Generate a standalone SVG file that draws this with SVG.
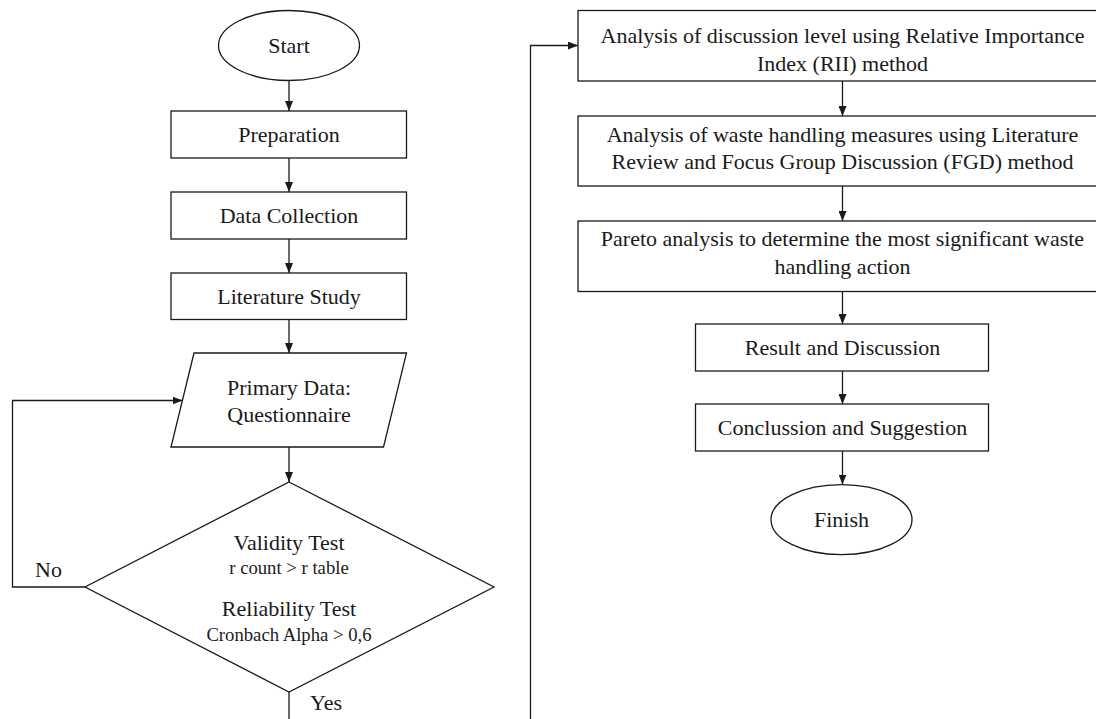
<svg xmlns="http://www.w3.org/2000/svg" width="1096" height="719" viewBox="0 0 1096 719">
<defs>
<marker id="arr" markerUnits="userSpaceOnUse" markerWidth="10" markerHeight="8" refX="10" refY="4" orient="auto">
<path d="M0,0 L10,4 L0,8 z" fill="#1a1a1a"/>
</marker>
<style>
.s{fill:#fff;stroke:#1a1a1a;stroke-width:1.3}
.c{fill:none;stroke:#1a1a1a;stroke-width:1.3}
.a{marker-end:url(#arr)}
text{font-family:"Liberation Serif","Times New Roman",serif;font-size:22px;fill:#1a1a1a;text-anchor:middle}
.sm{font-size:18.7px}
</style>
</defs>
<rect width="1096" height="719" fill="#fff"/>
<g id="connectors">
<line class="c a" x1="289" y1="81" x2="289" y2="111"/>
<line class="c a" x1="289" y1="158" x2="289" y2="192"/>
<line class="c a" x1="289" y1="239" x2="289" y2="273"/>
<line class="c a" x1="289" y1="319" x2="289" y2="353"/>
<line class="c a" x1="289" y1="447" x2="289" y2="482"/>
<polyline class="c a" points="85,587 12.5,587 12.5,400.5 182.5,400.5"/>
<polyline class="c" points="289,692 289,720"/>
<polyline class="c a" points="530.5,720 530.5,45.5 578,45.5"/>
<line class="c a" x1="842.5" y1="81" x2="842.5" y2="116"/>
<line class="c a" x1="842.5" y1="186" x2="842.5" y2="221"/>
<line class="c a" x1="842.5" y1="291.5" x2="842.5" y2="324"/>
<line class="c a" x1="842.5" y1="371" x2="842.5" y2="404"/>
<line class="c a" x1="842.5" y1="451" x2="842.5" y2="484.5"/>
<text x="48.5" y="577">No</text>
<text x="326" y="710">Yes</text>
</g>
<g id="start">
<ellipse class="s" cx="289" cy="45.5" rx="70.5" ry="35"/>
<text x="289" y="53">Start</text>
</g>
<g id="preparation">
<rect class="s" x="171" y="111" width="235.5" height="47"/>
<text x="289" y="142">Preparation</text>
</g>
<g id="data-collection">
<rect class="s" x="171" y="192" width="235.5" height="47"/>
<text x="289" y="223">Data Collection</text>
</g>
<g id="literature-study">
<rect class="s" x="171" y="273" width="235.5" height="46.5"/>
<text x="289" y="304">Literature Study</text>
</g>
<g id="primary-data">
<polygon class="s" points="194,353 406.5,353 383.5,447 171,447"/>
<text x="289" y="395">Primary Data:</text>
<text x="289" y="421.5">Questionnaire</text>
</g>
<g id="test">
<polygon class="s" points="289,482 494,587 289,692 85,587"/>
<text x="289" y="550">Validity Test</text>
<text class="sm" x="289" y="574">r count &gt; r table</text>
<text x="289" y="616">Reliability Test</text>
<text class="sm" x="289" y="641">Cronbach Alpha &gt; 0,6</text>
</g>
<g id="rii">
<rect class="s" x="578" y="10.5" width="520" height="70.5"/>
<text x="842.5" y="42.5">Analysis of discussion level using Relative Importance</text>
<text x="842.5" y="70.5">Index (RII) method</text>
</g>
<g id="fgd">
<rect class="s" x="578" y="116" width="520" height="70"/>
<text x="842.5" y="142">Analysis of waste handling measures using Literature</text>
<text x="842.5" y="169">Review and Focus Group Discussion (FGD) method</text>
</g>
<g id="pareto">
<rect class="s" x="578" y="221" width="520" height="70.5"/>
<text x="842.5" y="246">Pareto analysis to determine the most significant waste</text>
<text x="842.5" y="273.5">handling action</text>
</g>
<g id="result">
<rect class="s" x="695.5" y="324" width="293" height="47"/>
<text x="842.5" y="355">Result and Discussion</text>
</g>
<g id="conclusion">
<rect class="s" x="695.5" y="404" width="293" height="47"/>
<text x="842.5" y="435">Conclussion and Suggestion</text>
</g>
<g id="finish">
<ellipse class="s" cx="841.5" cy="519.7" rx="70.5" ry="35"/>
<text x="841.5" y="527">Finish</text>
</g>
</svg>
